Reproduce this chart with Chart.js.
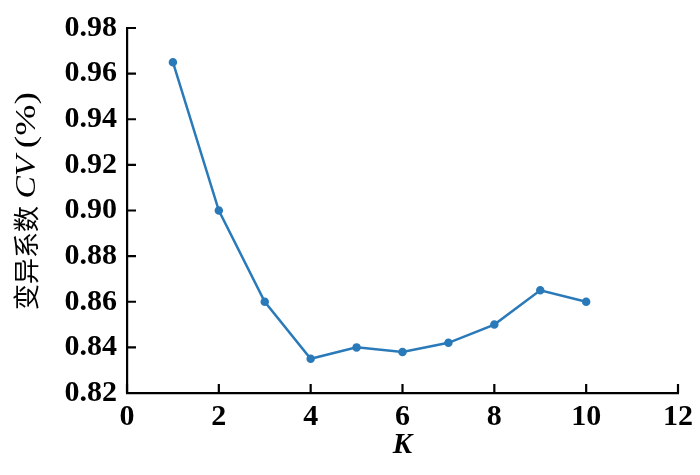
<!DOCTYPE html>
<html><head><meta charset="utf-8">
<script src="https://cdn.jsdelivr.net/npm/chart.js@4"></script>
<style>html,body{margin:0;padding:0;background:#fff;}#wrap{width:700px;height:475px;}</style>
</head><body><div id="wrap"><canvas id="c" width="700" height="475"></canvas></div>
<script>
const kValues = [1, 2, 3, 4, 5, 6, 7, 8, 9, 10];
const cvValues = [0.965, 0.900, 0.860, 0.835, 0.840, 0.838, 0.842, 0.850, 0.865, 0.860];
const xTicks = [0, 2, 4, 6, 8, 10, 12];
const yTicks = [0.82, 0.84, 0.86, 0.88, 0.90, 0.92, 0.94, 0.96, 0.98];
const yTitleParts = ['变异系数', ' ', 'CV', ' ', '(%)'];
const xTitle = 'K';

const serif = '"Liberation Serif", "Times New Roman", serif';
const tickFont = {family: serif, size: 30, weight: 'bold'};

const inwardTicks = {
  id: 'inwardTicks',
  afterDraw(chart) {
    const ctx = chart.ctx, a = chart.chartArea;
    const xs = chart.scales.x, ys = chart.scales.y;
    ctx.save();
    ctx.strokeStyle = '#000'; ctx.lineWidth = 2.2;
    ctx.beginPath();
    xTicks.forEach(v => { const p = xs.getPixelForValue(v); ctx.moveTo(p, a.bottom); ctx.lineTo(p, a.bottom - 9); });
    yTicks.forEach(v => { const p = ys.getPixelForValue(v); ctx.moveTo(a.left, p); ctx.lineTo(a.left + 9, p); });
    ctx.stroke();
    // y title (rotated, mixed fonts)
    const fonts = ['26px "Noto Sans CJK SC"', '30px ' + serif, 'italic 30px ' + serif, '30px ' + serif, '30px ' + serif];
    const stretch = [1, 1, 1.12, 1, 1.25];
    const widths = yTitleParts.map((t, i) => { ctx.font = fonts[i]; return ctx.measureText(t).width * stretch[i]; });
    const total = widths.reduce((s, w) => s + w, 0);
    ctx.translate(26, 201);
    ctx.rotate(-Math.PI / 2);
    ctx.fillStyle = '#000'; ctx.textBaseline = 'middle'; ctx.textAlign = 'left';
    let x = -total / 2;
    yTitleParts.forEach((t, i) => {
      ctx.save();
      ctx.font = fonts[i];
      ctx.translate(x, i === 0 ? 0 : 1);
      ctx.scale(stretch[i], 1);
      ctx.fillText(t, 0, 0);
      ctx.restore();
      x += widths[i];
    });
    ctx.restore();
  }
};

new Chart(document.getElementById('c'), {
  type: 'line',
  data: {
    datasets: [{
      data: kValues.map((k, i) => ({x: k, y: cvValues[i]})),
      borderColor: '#2a7ab9', backgroundColor: '#2a7ab9',
      borderWidth: 2.5, pointRadius: 3, pointHoverRadius: 3, tension: 0, fill: false
    }]
  },
  options: {
    responsive: false, animation: false, devicePixelRatio: 1,
    layout: {padding: {top: 25, right: 22, left: 0, bottom: 0}},
    plugins: {legend: {display: false}, tooltip: {enabled: false}},
    scales: {
      x: {
        type: 'linear', min: 0, max: 12,
        afterBuildTicks: s => { s.ticks = xTicks.map(v => ({value: v})); },
        afterFit: s => { s.height = 82; },
        grid: {display: true, drawOnChartArea: false, drawTicks: false},
        border: {display: true, color: '#000', width: 2.2},
        ticks: {font: tickFont, color: '#000', padding: 6, maxRotation: 0, callback: v => String(v)},
        title: {display: true, text: xTitle, color: '#000', font: {family: serif, size: 29, weight: 'bold', style: 'italic'}, padding: {top: 0, bottom: 12}}
      },
      y: {
        type: 'linear', min: 0.82, max: 0.98,
        afterBuildTicks: s => { s.ticks = yTicks.map(v => ({value: v})); },
        afterFit: s => { s.width = 127; },
        grid: {display: true, drawOnChartArea: false, drawTicks: false},
        border: {display: true, color: '#000', width: 2.2},
        ticks: {font: tickFont, color: '#000', padding: 10, callback: v => Number(v).toFixed(2)}
      }
    }
  },
  plugins: [inwardTicks]
});
</script></body></html>
